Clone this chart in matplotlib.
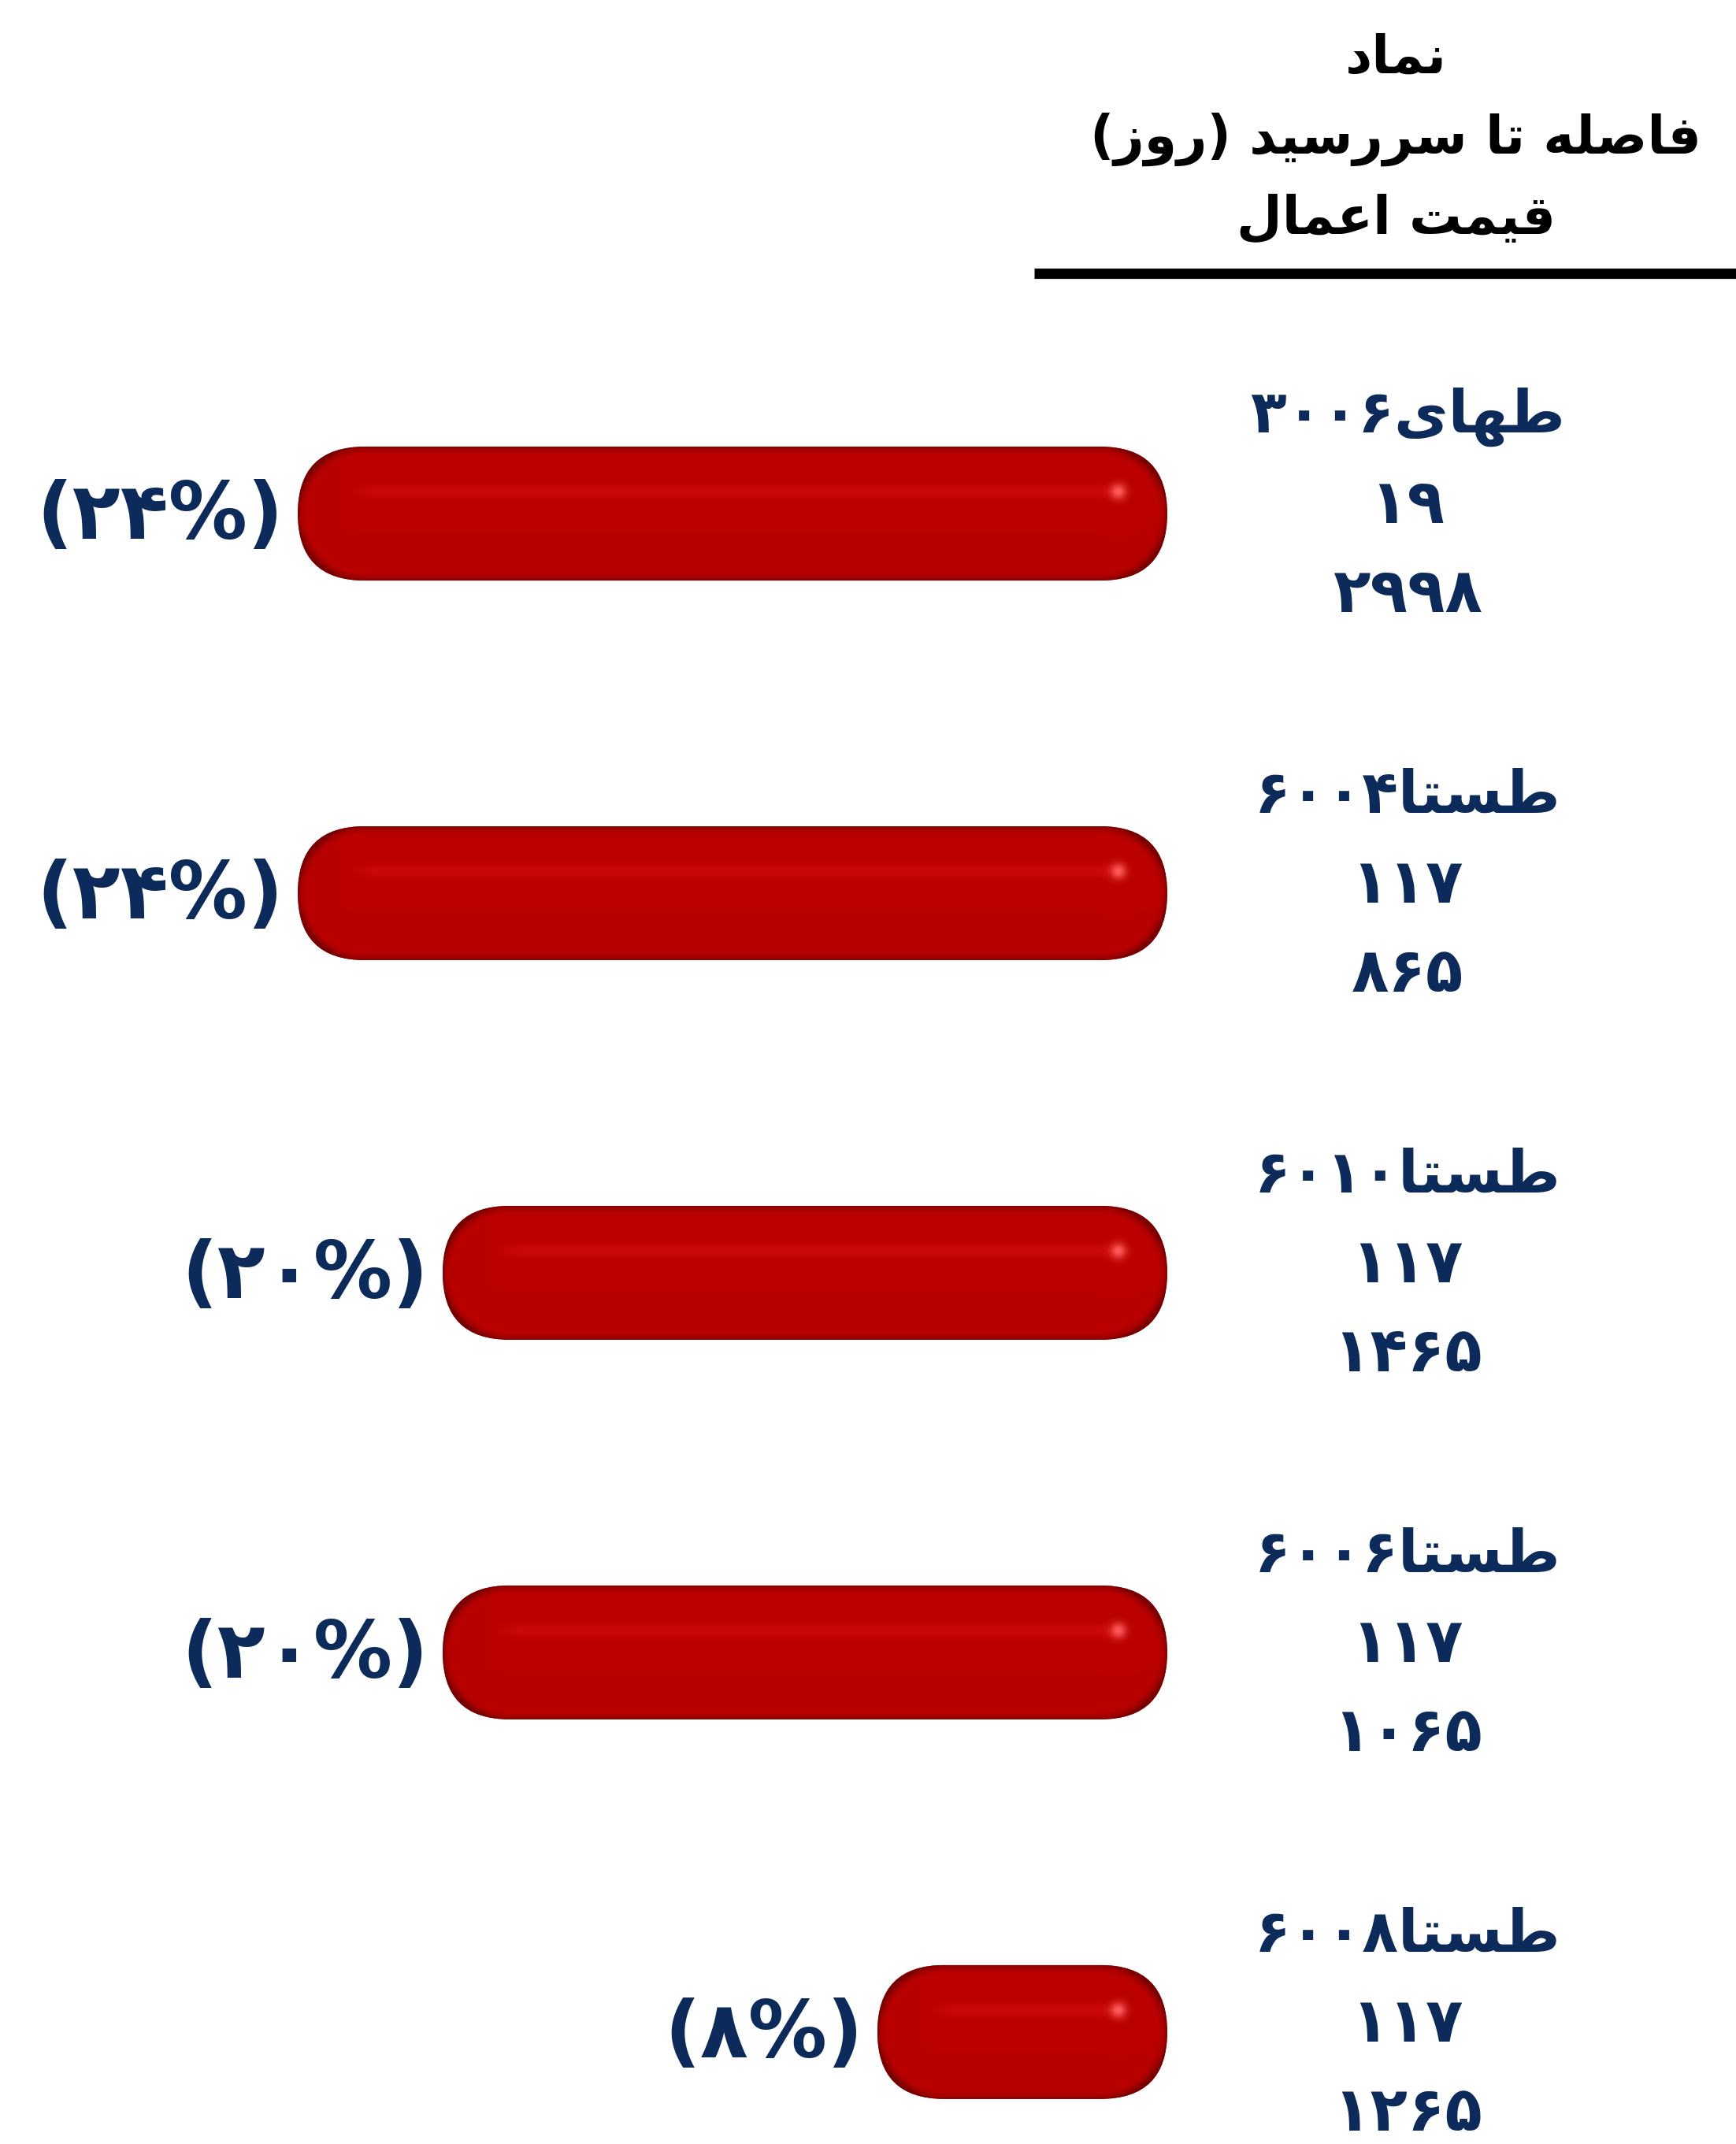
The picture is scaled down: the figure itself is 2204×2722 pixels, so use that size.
import numpy as np
import matplotlib
matplotlib.use("Agg")
import matplotlib.pyplot as plt
from matplotlib.patches import FancyBboxPatch

# data
symbols = ["طهای۳۰۰۶", "طستا۶۰۰۴", "طستا۶۰۱۰", "طستا۶۰۰۶", "طستا۶۰۰۸"]
days_left = ["۱۹", "۱۱۷", "۱۱۷", "۱۱۷", "۱۱۷"]
strike = ["۲۹۹۸", "۸۶۵", "۱۴۶۵", "۱۰۶۵", "۱۲۶۵"]
pct_values = [24, 24, 20, 20, 8]
pct_labels = ["(۲۴%)", "(۲۴%)", "(۲۰%)", "(۲۰%)", "(۸%)"]
header = ["نماد", "فاصله تا سررسید (روز)", "قیمت اعمال"]

NAVY = "#0c2a5a"

# --- minimal arabic shaping (matplotlib has no bidi / joining) ---
FORMS = {
    "ا": ("\uFE8D", "\uFE8E", None, None), "د": ("\uFEA9", "\uFEAA", None, None),
    "ر": ("\uFEAD", "\uFEAE", None, None), "ز": ("\uFEAF", "\uFEB0", None, None),
    "و": ("\uFEED", "\uFEEE", None, None),
    "ن": ("\uFEE5", "\uFEE6", "\uFEE7", "\uFEE8"), "م": ("\uFEE1", "\uFEE2", "\uFEE3", "\uFEE4"),
    "ف": ("\uFED1", "\uFED2", "\uFED3", "\uFED4"), "ص": ("\uFEB9", "\uFEBA", "\uFEBB", "\uFEBC"),
    "ل": ("\uFEDD", "\uFEDE", "\uFEDF", "\uFEE0"), "ه": ("\uFEE9", "\uFEEA", "\uFEEB", "\uFEEC"),
    "ت": ("\uFE95", "\uFE96", "\uFE97", "\uFE98"), "س": ("\uFEB1", "\uFEB2", "\uFEB3", "\uFEB4"),
    "ی": ("\uFEEF", "\uFEF0", "\uFEF3", "\uFEF4"), "ع": ("\uFEC9", "\uFECA", "\uFECB", "\uFECC"),
    "ق": ("\uFED5", "\uFED6", "\uFED7", "\uFED8"), "ط": ("\uFEC1", "\uFEC2", "\uFEC3", "\uFEC4"),
}
DUAL = set(k for k, v in FORMS.items() if v[2] is not None)
DIGITS = set("۰۱۲۳۴۵۶۷۸۹0123456789")


def shape(s):
    out = []
    for i, c in enumerate(s):
        if c not in FORMS:
            out.append(c)
            continue
        prev = s[i - 1] if i > 0 else ""
        nxt = s[i + 1] if i + 1 < len(s) else ""
        jp = prev in DUAL
        jn = c in DUAL and nxt in FORMS
        f = FORMS[c]
        out.append(f[3] if jp and jn else f[1] if jp else f[2] if jn else f[0])
    # visual order: reverse runs, keep digit runs LTR, mirror parens
    runs, cur, isd = [], "", None
    for c in out:
        d = c in DIGITS
        if cur and d != isd:
            runs.append((cur, isd))
            cur = ""
        cur += c
        isd = d
    if cur:
        runs.append((cur, isd))
    vis = ""
    for r, d in reversed(runs):
        vis += r if d else r[::-1]
    return vis.translate(str.maketrans("()", ")("))


fig = plt.figure(figsize=(22.04, 27.22), dpi=100)
fig.patch.set_facecolor("white")
ax = fig.add_axes([0, 0, 1, 1])
ax.set_xlim(32.22, -15.70)
ax.set_ylim(4.295, -1.353)
ax.axis("off")

px_x = 46.0   # pixels per percent
px_y = 482.0  # pixels per row
bar_h = 170 / px_y
rad = 85 / px_x

for i, v in enumerate(pct_values):
    # pill shaped bar from 0 to v
    patch = FancyBboxPatch((0, i - bar_h / 2), v, bar_h,
                           boxstyle="round,pad=0,rounding_size=%f" % rad,
                           mutation_aspect=px_x / px_y,
                           facecolor="#b80000", edgecolor="none", zorder=2)
    ax.add_patch(patch)
    # glossy shading image
    W = int(v * px_x)
    H = 170
    xx, yy = np.meshgrid(np.arange(W) + 0.5, np.arange(H) + 0.5)
    cx = np.clip(xx, 85, W - 85)
    dist = 85 - np.hypot(xx - cx, yy - 85)
    f = np.clip(dist / 10.0, 0, 1) ** 0.5
    base = np.array([186, 0, 0]) / 255
    dark = np.array([120, 0, 0]) / 255
    img = dark + (base - dark) * f[..., None]
    stripe = np.exp(-((yy - 57) / 9.0) ** 2) * np.clip((xx - 60) / 40, 0, 1) * np.clip((W - 60 - xx) / 20, 0, 1)
    img = img + stripe[..., None] * np.array([16, 10, 10]) / 255
    spot = np.exp(-(((xx - (W - 62)) / 10.0) ** 2 + ((yy - 57) / 10.0) ** 2))
    img = img + spot[..., None] * np.array([70, 90, 90]) / 255
    img = np.clip(img, 0, 1)
    im = ax.imshow(img, extent=(v, 0, i + bar_h / 2, i - bar_h / 2),
                   interpolation="bilinear", zorder=3, aspect="auto")
    im.set_clip_path(patch)

    ax.text(v + 18 / px_x, i + 0.01, pct_labels[i], ha="right", va="center",
            fontsize=72, fontweight="bold", color=NAVY, zorder=4)

    col_x = (1482 - 1787) / px_x
    ax.text(col_x, i - 123 / px_y, shape(symbols[i]), ha="center", va="center",
            fontsize=54, fontweight="bold", color=NAVY)
    ax.text(col_x, i - 10 / px_y, days_left[i], ha="center", va="center",
            fontsize=56, fontweight="bold", color=NAVY)
    ax.text(col_x, i + 103 / px_y, strike[i], ha="center", va="center",
            fontsize=56, fontweight="bold", color=NAVY)

# header
for k, (t, yy) in enumerate(zip(header, [73, 177, 278])):
    fig.text(1772 / 2204, 1 - yy / 2722, shape(t), ha="center", va="center",
             fontsize=48, fontweight="bold", color="black")
ax.plot([1313 / 2204, 1.0], [1 - 347 / 2722] * 2, transform=fig.transFigure,
        color="black", lw=9.5, solid_capstyle="butt")

fig.savefig("out.png", dpi=100, facecolor="white")
